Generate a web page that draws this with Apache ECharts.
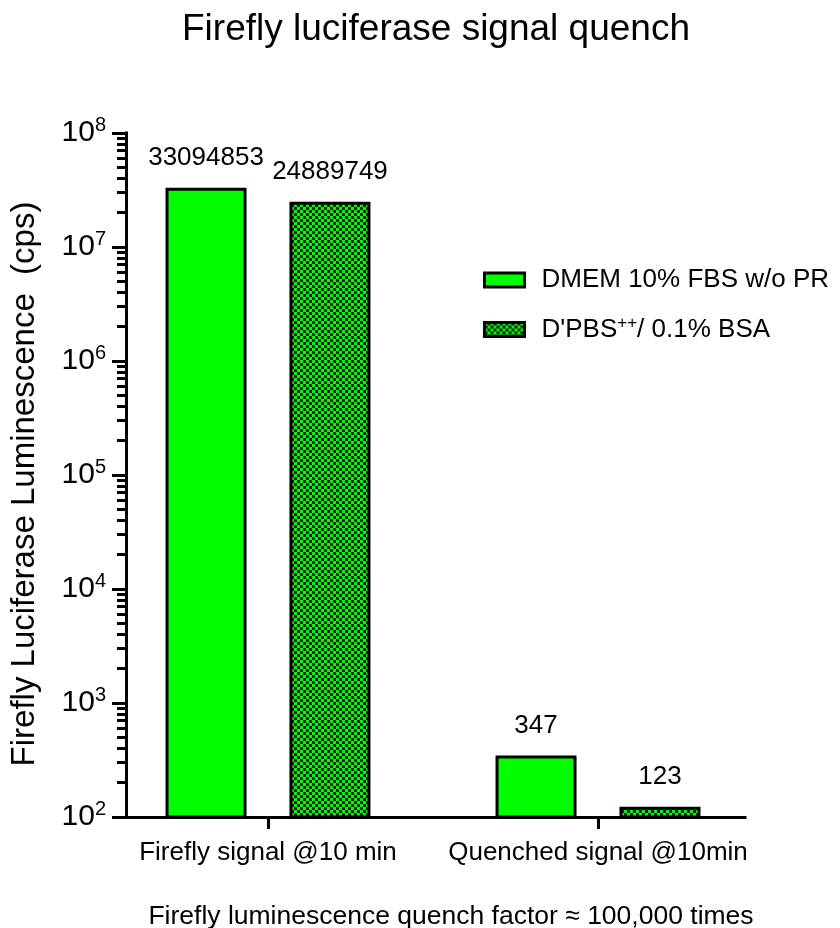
<!DOCTYPE html>
<html>
<head>
<meta charset="utf-8">
<script src="https://cdn.jsdelivr.net/npm/echarts@6/dist/echarts.min.js"></script>
<style>
  html, body { margin: 0; padding: 0; background: #fff; }
  #chart { width: 840px; height: 928px; }
</style>
</head>
<body>
<div id="chart"></div>
<script>
// Groups along the x axis
const categories = ['Firefly signal @10 min', 'Quenched signal @10min'];
// Media conditions (legend entries)
const seriesNames = ['DMEM 10% FBS w/o PR', "D'PBS++/ 0.1% BSA"];
// Luminescence readings (cps)
const dmemValues = [33094853, 347];
const dpbsValues = [24889749, 123];
// Decade ticks of the log axis
const majorTicks = [1e2, 1e3, 1e4, 1e5, 1e6, 1e7, 1e8];
const tickExponents = ['2', '3', '4', '5', '6', '7', '8'];

const chartTitle = 'Firefly luciferase signal quench';
const footnote = 'Firefly luminescence quench factor \u2248 100,000 times';
const yTitle = 'Firefly Luciferase Luminescence  (cps)';

// minor ticks at 2..9 x each decade
const minorTicks = [];
for (let d = 0; d < majorTicks.length - 1; d++) {
  for (let m = 2; m <= 9; m++) minorTicks.push(majorTicks[d] * m);
}

const FONT = 'Liberation Sans, Arial, sans-serif';
const GREEN = '#00ff00';

// green / black checkerboard fill
function checkerPattern() {
  const c = document.createElement('canvas');
  c.width = 6; c.height = 6;
  const g = c.getContext('2d');
  g.fillStyle = '#11ee11';
  g.fillRect(0, 0, 6, 6);
  g.fillStyle = '#062806';
  g.fillRect(3, 0, 3, 3);
  g.fillRect(0, 3, 3, 3);
  return { image: c, repeat: 'repeat' };
}

const chart = echarts.init(document.getElementById('chart'), null, { renderer: 'canvas' });

const yMin = majorTicks[0];
const yMax = majorTicks[majorTicks.length - 1];

const valueLabel = {
  show: true,
  position: 'top',
  distance: 17,
  color: '#000',
  fontFamily: FONT,
  fontSize: 26,
  formatter: p => String(p.value)
};

function supText(name) {
  return name.replace('++', '{sup|++}');
}

chart.setOption({
  animation: false,
  backgroundColor: '#fff',
  title: [
    {
      text: chartTitle,
      left: 431, top: 6, textAlign: 'center',
      textStyle: { fontFamily: FONT, fontSize: 37, fontWeight: 'normal', color: '#000' }
    },
    {
      text: footnote,
      left: 446, top: 898, textAlign: 'center',
      textStyle: { fontFamily: FONT, fontSize: 26.5, fontWeight: 'normal', color: '#000' }
    }
  ],
  legend: {
    data: seriesNames,
    orient: 'vertical',
    left: 478, top: 262,
    icon: 'rect',
    itemWidth: 40, itemHeight: 14,
    itemGap: 22,
    itemStyle: { borderColor: '#000', borderWidth: 3 },
    formatter: supText,
    textStyle: {
      fontFamily: FONT, fontSize: 26, color: '#000', padding: [0, 0, 0, 12],
      rich: { sup: { fontFamily: FONT, fontSize: 17, verticalAlign: 'top', padding: [0, 0, 12, 0] } }
    }
  },
  grid: [
    { left: 103, right: 77, top: 133, bottom: 111 },
    { left: 124, right: 95, top: 133, bottom: 111 }
  ],
  xAxis: [
    {
      type: 'category', gridIndex: 0, data: categories,
      axisLine: { show: false },
      axisTick: { show: true, interval: 0, alignWithLabel: true, length: 12, lineStyle: { color: '#000', width: 3 } },
      axisLabel: { interval: 0, hideOverlap: false, fontFamily: FONT, fontSize: 26, color: '#000', margin: 23 }
    },
    {
      type: 'value', gridIndex: 1, min: 0, max: 1,
      axisLine: { show: true, lineStyle: { color: '#000', width: 3, cap: 'square' } },
      axisTick: { show: false }, axisLabel: { show: false }, splitLine: { show: false }
    }
  ],
  yAxis: [
    {
      type: 'log', gridIndex: 0, min: yMin, max: yMax, show: false
    },
    {
      type: 'log', gridIndex: 1, position: 'left', min: yMin, max: yMax,
      name: yTitle, nameLocation: 'middle', nameGap: 85,
      nameTextStyle: { fontFamily: FONT, fontSize: 33, color: '#000', padding: [0, 18, 0, 0] },
      axisLine: { show: true, lineStyle: { color: '#000', width: 3, cap: 'square' } },
      axisTick: { show: true, length: 14, customValues: majorTicks, lineStyle: { color: '#000', width: 3 } },
      axisLabel: {
        margin: 20,
        customValues: majorTicks,
        formatter: v => {
          const i = majorTicks.indexOf(v);
          return '10{sup|' + (i >= 0 ? tickExponents[i] : Math.round(Math.log10(v))) + '}';
        },
        fontFamily: FONT, fontSize: 30, color: '#000',
        rich: { sup: { fontFamily: FONT, fontSize: 20, verticalAlign: 'top', padding: [0, 0, 16, 0] } }
      },
      splitLine: { show: false }
    },
    {
      type: 'log', gridIndex: 1, position: 'left', min: yMin, max: yMax,
      axisLine: { show: false },
      axisTick: { show: true, length: 9, customValues: minorTicks, lineStyle: { color: '#000', width: 3 } },
      axisLabel: { show: false },
      splitLine: { show: false }
    }
  ],
  series: [
    {
      name: seriesNames[0], type: 'bar', xAxisIndex: 0, yAxisIndex: 0,
      data: dmemValues,
      barWidth: 81, barGap: '53%',
      itemStyle: { color: GREEN, borderColor: '#000', borderWidth: 3 },
      label: valueLabel
    },
    {
      name: seriesNames[1], type: 'bar', xAxisIndex: 0, yAxisIndex: 0,
      data: dpbsValues,
      barWidth: 81,
      itemStyle: { color: checkerPattern(), borderColor: '#000', borderWidth: 3 },
      label: valueLabel
    }
  ]
});
</script>
</body>
</html>
